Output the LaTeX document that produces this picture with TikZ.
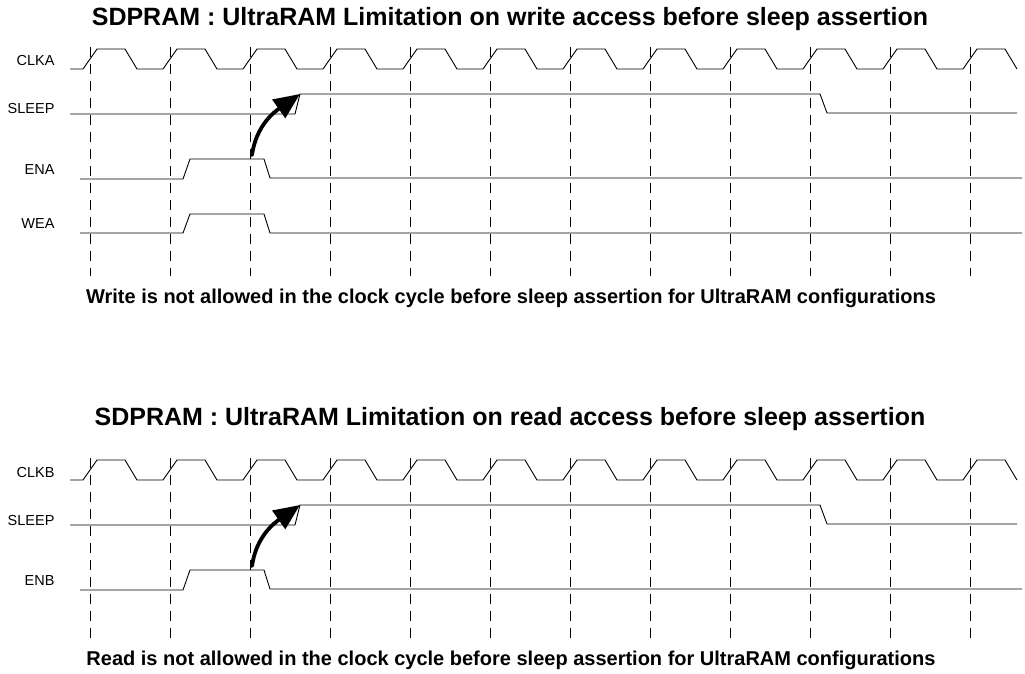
\documentclass[tikz,border=0pt]{standalone}
\usepackage{fontspec}
\setmainfont{Liberation Sans}
\usetikzlibrary{arrows.meta}

\begin{document}
\begin{tikzpicture}[x=1pt, y=-1pt,
    wave/.style={line width=0.9pt},
    divline/.style={line width=1pt, dash pattern=on 10pt off 7pt},
    lbl/.style={anchor=east, font=\fontsize{14.5}{17}\selectfont},
    ttl/.style={font=\fontsize{25}{30}\selectfont\bfseries},
    caption/.style={font=\fontsize{20}{24}\selectfont\bfseries},
    cause/.style={line width=3.8pt, line cap=round, -{Triangle[length=26pt,width=22pt]}}]
        \useasboundingbox (0,0) rectangle (1025,673);
        % ── (a) escritura antes de sleep ─────────────────────
        \begin{scope}
            \node[ttl] (ttla) at (510,19) {SDPRAM : UltraRAM Limitation on write access before sleep assertion};
            \node[lbl] (clka) at (58,61) {CLKA};
            \node[lbl] (sleepa) at (58,109) {SLEEP};
            \node[lbl] (ena) at (58,170) {ENA};
            \node[lbl] (wea) at (58,224) {WEA};
            % reloj
            \draw[wave] (70,69) \foreach \k in {0,...,11} {
                -- ({83+80*\k},69) -- ({97+80*\k},49) -- ({125+80*\k},49) -- ({137+80*\k},69)};
            % flancos de subida
            \foreach \k in {0,...,11}
                \draw[divline] ({90+80*\k},47) -- ({90+80*\k},276);
            % sleep
            \draw[wave] (70,114) -- (295,114) -- (300,94) -- (820,94) -- (827,113) -- (1017,113);
            % ena y wea
            \draw[wave] (80,179) -- (183,179) -- (190,159) -- (264,159) -- (270,178) -- (1022,178);
            \draw[wave] (80,233) -- (183,233) -- (190,214) -- (264,214) -- (270,233) -- (1022,233);
            \coordinate (srca) at (252,155);
            \coordinate (dsta) at (300,94);
            \draw[cause] (srca) to[out=82, in=215] (dsta);
            \node[caption] (capa) at (511,298) {Write is not allowed in the clock cycle before sleep assertion for UltraRAM configurations};
        \end{scope}
        % ── (b) lectura antes de sleep ───────────────────────
        \begin{scope}[yshift=-411pt]
            \node[ttl] (ttlb) at (510,8) {SDPRAM : UltraRAM Limitation on read access before sleep assertion};
            \node[lbl] (clkb) at (58,61) {CLKB};
            \node[lbl] (sleepb) at (58,109) {SLEEP};
            \node[lbl] (enb) at (58,170) {ENB};
            % reloj
            \draw[wave] (70,69) \foreach \k in {0,...,11} {
                -- ({83+80*\k},69) -- ({97+80*\k},49) -- ({125+80*\k},49) -- ({137+80*\k},69)};
            % flancos de subida
            \foreach \k in {0,...,11}
                \draw[divline] ({90+80*\k},47) -- ({90+80*\k},228);
            % sleep
            \draw[wave] (70,114) -- (295,114) -- (300,94) -- (820,94) -- (827,113) -- (1017,113);
            % enb
            \draw[wave] (80,179) -- (183,179) -- (190,159) -- (264,159) -- (270,178) -- (1022,178);
            \coordinate (srcb) at (252,155);
            \coordinate (dstb) at (300,94);
            \draw[cause] (srcb) to[out=82, in=215] (dstb);
            \node[caption] (capb) at (511,249) {Read is not allowed in the clock cycle before sleep assertion for UltraRAM configurations};
        \end{scope}
    \end{tikzpicture}
\end{document}
